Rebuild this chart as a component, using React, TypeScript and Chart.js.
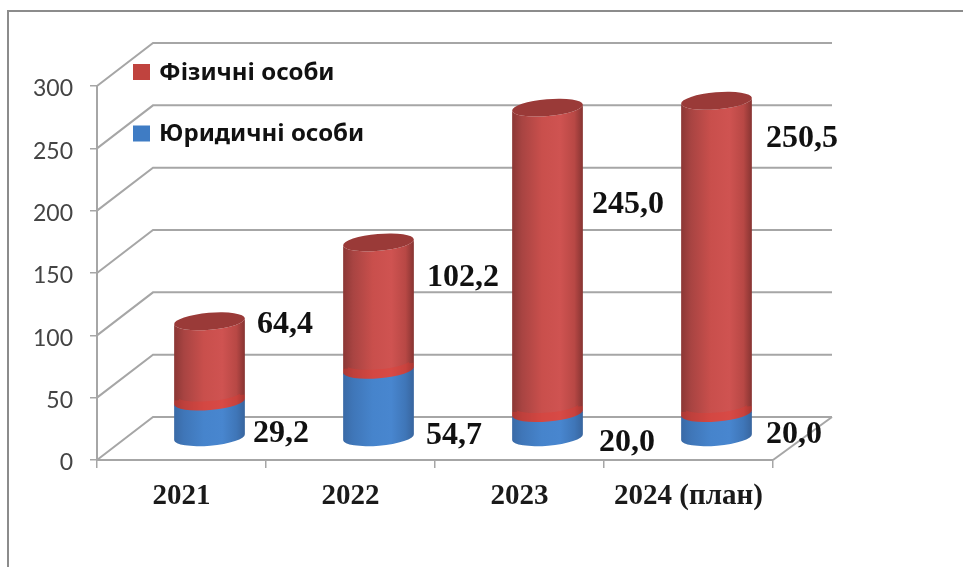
import React, { useEffect, useRef } from "react";
import { Chart, registerables, BarController, BarElement } from "chart.js";

const categories = ["2021", "2022", "2023", "2024 (план)"];
const legalPersons = [29.2, 54.7, 20.0, 20.0];
const naturalPersons = [64.4, 102.2, 245.0, 250.5];
const yTicks = [0, 50, 100, 150, 200, 250, 300];

// Placement of each value label relative to the right edge and top of its segment.
const legalLabelOffsets = [[8, 32], [12, 66], [16, 30], [14, 22]];
const naturalLabelOffsets = [[12, 3], [13, 35], [9, 97], [14, 38]];

const WIDTH = 963;
const HEIGHT = 567;
const WALL_DX = 59;
const WALL_DY = 43;
const BAR_DX = 28;
const BAR_DY = 22;
const CAP_RY = 8.5;
const CAP_TILT = 0.085;
const GRID_COLOR = "#a6a6a6";
const VALUE_FONT = "bold 32px 'Liberation Serif'";

const redShades = {
  side: ["#8b3735", "#a84442", "#c94f4c", "#cf5351", "#b84845", "#863432"],
  cap: "#9a3a38",
  seam: "rgba(232,58,50,0.35)",
};
const blueShades = {
  side: ["#3a6aa6", "#3f76b8", "#4684cc", "#4886cf", "#3f76b8", "#38659e"],
  cap: "#3f76b8",
  seam: "rgba(0,0,0,0)",
};

// Bar element drawn as an upright cylinder with a tilted elliptical section.
class CylinderElement extends BarElement {
  static id = "cylinder";
  static defaults = BarElement.defaults;
  static defaultRoutes = (BarElement as any).defaultRoutes;

  draw(ctx: CanvasRenderingContext2D) {
    const { x, y, base, width, shades, isTop, isBottom } = this as any;
    const cx = x + BAR_DX;
    const a = width / 2;
    const top = y - BAR_DY;
    const bottom = base - BAR_DY + (isBottom ? 0 : 1);

    const gradient = ctx.createLinearGradient(cx - a, 0, cx + a, 0);
    const stops = [0, 0.14, 0.42, 0.68, 0.88, 1];
    shades.side.forEach((c: string, i: number) => gradient.addColorStop(stops[i], c));

    ctx.save();
    ctx.beginPath();
    ctx.ellipse(cx, bottom, a, CAP_RY, -CAP_TILT, Math.PI, 0, true);
    ctx.ellipse(cx, top, a, CAP_RY, -CAP_TILT, 0, Math.PI, false);
    ctx.closePath();
    ctx.fillStyle = gradient;
    ctx.fill();

    if (!isBottom) {
      ctx.save();
      ctx.clip();
      ctx.beginPath();
      ctx.ellipse(cx, bottom - 5, a, CAP_RY, -CAP_TILT, Math.PI, 0, true);
      ctx.lineWidth = 10;
      ctx.strokeStyle = shades.seam;
      ctx.stroke();
      ctx.restore();
    }

    if (isTop) {
      ctx.beginPath();
      ctx.ellipse(cx, top, a, CAP_RY, -CAP_TILT, 0, Math.PI * 2);
      ctx.fillStyle = shades.cap;
      ctx.fill();
    }
    ctx.restore();
  }
}

class CylinderController extends BarController {
  static id = "cylinderBar";
  static defaults = { ...BarController.defaults, dataElementType: "cylinder" };
  static overrides = BarController.overrides;

  draw() {
    const meta = this.getMeta();
    const dataset = this.getDataset() as any;
    const last = this.chart.data.datasets.length - 1;
    meta.data.forEach((el: any) => {
      el.shades = dataset.shades;
      el.isTop = this.index === last;
      el.isBottom = this.index === 0;
    });
    super.draw();
  }
}

Chart.register(...registerables, CylinderController, CylinderElement);

const formatValue = (v: number) => v.toFixed(1).replace(".", ",");

// Picture frame, perspective back wall and floor behind the cylinders.
const wallsPlugin = {
  id: "walls",
  beforeDatasetsDraw(chart: any) {
    const { ctx, chartArea, scales } = chart;
    const { left, right, bottom } = chartArea;
    ctx.save();

    ctx.strokeStyle = "#8c8c8c";
    ctx.lineWidth = 2;
    ctx.beginPath();
    ctx.moveTo(8, HEIGHT);
    ctx.lineTo(8, 11);
    ctx.lineTo(WIDTH, 11);
    ctx.stroke();

    ctx.strokeStyle = GRID_COLOR;
    ctx.lineWidth = 2;
    yTicks.forEach((t) => {
      const py = scales.y.getPixelForValue(t);
      ctx.beginPath();
      ctx.moveTo(left, py);
      ctx.lineTo(left + WALL_DX - 3, py - WALL_DY);
      ctx.lineTo(right + WALL_DX, py - WALL_DY);
      ctx.stroke();
    });
    ctx.beginPath();
    ctx.moveTo(right, bottom);
    ctx.lineTo(right + WALL_DX, bottom - WALL_DY);
    ctx.stroke();
    ctx.restore();
  },
};

// Value labels beside the cylinders.
const valueLabelsPlugin = {
  id: "valueLabels",
  afterDatasetsDraw(chart: any) {
    const { ctx } = chart;
    ctx.save();
    ctx.font = VALUE_FONT;
    ctx.fillStyle = "#111111";
    ctx.textAlign = "left";
    ctx.textBaseline = "middle";
    chart.data.datasets.forEach((ds: any, di: number) => {
      chart.getDatasetMeta(di).data.forEach((el: any, i: number) => {
        const [ox, oy] = ds.labelOffsets[i];
        const px = el.x + BAR_DX + el.width / 2 + ox;
        const py = el.y - BAR_DY + oy;
        ctx.fillText(formatValue(ds.data[i]), px, py);
      });
    });
    ctx.restore();
  },
};

// Key placed over the upper left of the back wall.
const keyPlugin = {
  id: "key",
  afterDraw(chart: any) {
    const { ctx } = chart;
    const rows = [...chart.data.datasets].reverse();
    ctx.save();
    ctx.font = "bold 24px 'Noto Sans'";
    ctx.textAlign = "left";
    ctx.textBaseline = "middle";
    rows.forEach((ds: any, i: number) => {
      const cy = 72 + i * 61.5;
      ctx.fillStyle = ds.backgroundColor;
      ctx.fillRect(133, cy - 8, 17, 16);
      ctx.fillStyle = "#111111";
      ctx.fillText(ds.label, 159, cy + 1);
    });
    ctx.restore();
  },
};

export default function App() {
  const canvasRef = useRef<HTMLCanvasElement>(null);

  useEffect(() => {
    const chart = new Chart(canvasRef.current!, {
      type: "cylinderBar" as any,
      data: {
        labels: categories,
        datasets: [
          {
            label: "Юридичні особи",
            data: legalPersons,
            backgroundColor: "#3f7cc4",
            shades: blueShades,
            labelOffsets: legalLabelOffsets,
          },
          {
            label: "Фізичні особи",
            data: naturalPersons,
            backgroundColor: "#c0433e",
            shades: redShades,
            labelOffsets: naturalLabelOffsets,
          },
        ] as any,
      },
      options: {
        responsive: false,
        animation: false,
        layout: { padding: { left: 0, top: 86, right: 190, bottom: 0 } },
        datasets: { cylinderBar: { categoryPercentage: 1, barPercentage: 0.42 } } as any,
        plugins: { legend: { display: false }, tooltip: { enabled: false }, title: { display: false } },
        scales: {
          x: {
            stacked: true,
            afterFit: (s: any) => { s.height = 107; },
            border: { color: GRID_COLOR, width: 2 },
            grid: { drawOnChartArea: false, color: GRID_COLOR, tickLength: 8, lineWidth: 1.5, offset: true },
            ticks: {
              color: "#1a1a1a",
              padding: 11,
              maxRotation: 0,
              autoSkip: false,
              font: { family: "'Liberation Serif'", size: 29, weight: "bold" },
            },
          },
          y: {
            stacked: true,
            min: 0,
            max: 300,
            afterFit: (s: any) => { s.width = 97; },
            afterBuildTicks: (s: any) => { s.ticks = yTicks.map((value) => ({ value })); },
            border: { color: GRID_COLOR, width: 2 },
            grid: { drawOnChartArea: false, color: GRID_COLOR, tickLength: 7, lineWidth: 1.5 },
            ticks: {
              color: "#444444",
              padding: 17,
              labelOffset: 3,
              font: { family: "Lato", size: 23 },
            },
          },
        },
      },
      plugins: [wallsPlugin, valueLabelsPlugin, keyPlugin],
    } as any);
    return () => chart.destroy();
  }, []);

  return (
    <div style={{ position: "fixed", left: 0, top: 0, width: WIDTH, height: HEIGHT, background: "#ffffff" }}>
      <canvas ref={canvasRef} width={WIDTH} height={HEIGHT} style={{ display: "block" }} />
    </div>
  );
}
